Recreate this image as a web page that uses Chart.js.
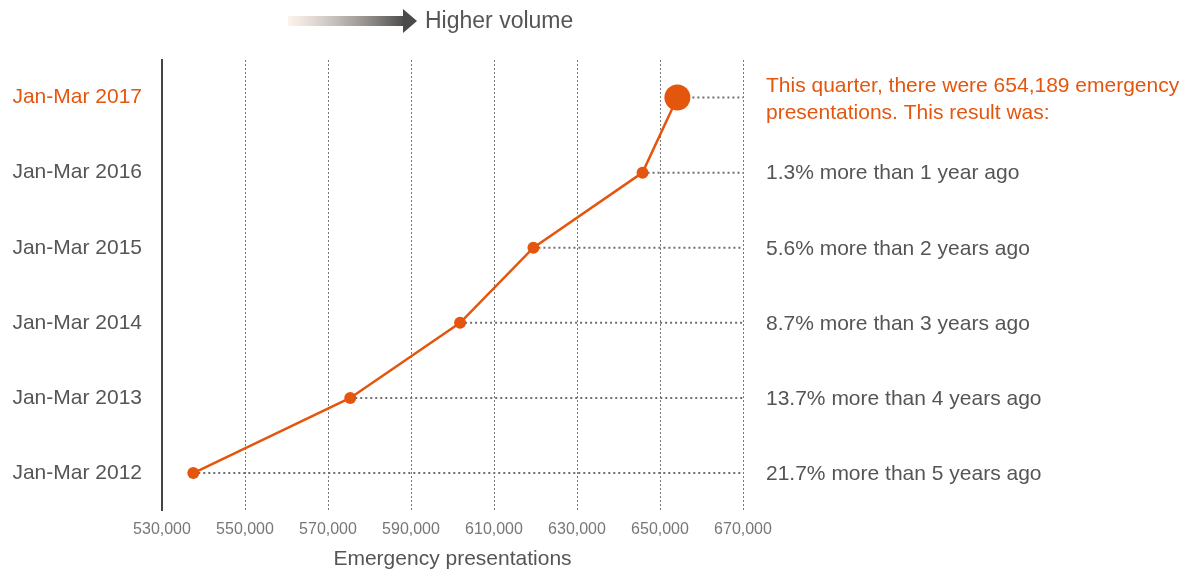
<!DOCTYPE html>
<html>
<head>
<meta charset="utf-8">
<script src="https://cdn.jsdelivr.net/npm/chart.js@4"></script>
<style>
  html, body { margin: 0; padding: 0; background: #ffffff; }
  #wrap { width: 1197px; height: 575px; position: relative; }
</style>
</head>
<body>
<div id="wrap"><canvas id="edChart"></canvas></div>
<script>
// Quarters, newest at the top
const quarters = ['Jan-Mar 2017', 'Jan-Mar 2016', 'Jan-Mar 2015', 'Jan-Mar 2014', 'Jan-Mar 2013', 'Jan-Mar 2012'];
const presentations = [654189, 645790, 619500, 601830, 575360, 537540];
const headlineNote = ['This quarter, there were 654,189 emergency', 'presentations. This result was:'];
const changeNotes = ['', '1.3% more than 1 year ago', '5.6% more than 2 years ago', '8.7% more than 3 years ago',
                     '13.7% more than 4 years ago', '21.7% more than 5 years ago'];
const xMin = 530000, xMax = 670000, xStep = 20000;

const ORANGE = '#E4560E';
const GREY = '#555555';
const FONT = "'Liberation Sans', Arial, sans-serif";

// dotted guide from each point across to the right edge
const guideSets = quarters.map((q, i) => ({
    data: [{ x: presentations[i], y: q }, { x: xMax, y: q }],
    borderColor: '#6f6f6f',
    borderWidth: 2,
    borderDash: [2, 3],
    pointRadius: 0,
    order: 2
}));

const sidePlugin = {
    id: 'sideNotes',
    afterDraw(chart) {
        const c = chart.ctx;
        const y = chart.scales.y;
        c.save();
        c.textAlign = 'left';
        c.textBaseline = 'middle';
        c.font = '21px ' + FONT;
        // headline for the latest quarter
        const y0 = y.getPixelForValue(0);
        c.fillStyle = ORANGE;
        c.fillText(headlineNote[0], 766, y0 - 11);
        c.fillText(headlineNote[1], 766, y0 + 16);
        c.fillStyle = GREY;
        changeNotes.forEach((t, i) => {
            if (t) c.fillText(t, 766, y.getPixelForValue(i) + 1);
        });

        // "Higher volume" arrow above the plot
        const g = c.createLinearGradient(288, 0, 405, 0);
        g.addColorStop(0, 'rgba(250,235,225,0.6)');
        g.addColorStop(1, '#4a4a4a');
        c.fillStyle = g;
        c.fillRect(288, 16, 118, 10);
        c.fillStyle = '#4a4a4a';
        c.beginPath();
        c.moveTo(403, 9);
        c.lineTo(417, 21);
        c.lineTo(403, 33);
        c.closePath();
        c.fill();
        c.fillStyle = GREY;
        c.font = '23px ' + FONT;
        c.fillText('Higher volume', 425, 22);
        c.restore();
    }
};

new Chart(document.getElementById('edChart'), {
    type: 'line',
    data: {
        labels: quarters,
        datasets: [
            {
                data: presentations,
                borderColor: ORANGE,
                backgroundColor: ORANGE,
                borderWidth: 2.5,
                pointBackgroundColor: ORANGE,
                pointBorderWidth: 0,
                pointRadius: [13, 6, 6, 6, 6, 6],
                order: 0
            },
            ...guideSets
        ]
    },
    plugins: [sidePlugin],
    options: {
        indexAxis: 'y',
        responsive: true,
        maintainAspectRatio: false,
        animation: false,
        layout: { padding: { top: 60, right: 454, bottom: 3, left: 0 } },
        plugins: {
            legend: { display: false },
            tooltip: { enabled: false }
        },
        scales: {
            x: {
                type: 'linear',
                min: xMin,
                max: xMax,
                grid: {
                    drawTicks: false,
                    color: ctx => ctx.index === 0 ? 'rgba(0,0,0,0)' : '#777777',
                    lineWidth: 1
                },
                border: { display: false, dash: [2, 2] },
                ticks: {
                    stepSize: xStep,
                    padding: 9,
                    color: '#777777',
                    font: { family: FONT, size: 16 },
                    callback: v => v.toLocaleString('en-US')
                },
                title: {
                    display: true,
                    text: 'Emergency presentations',
                    color: GREY,
                    padding: { top: -1, bottom: 0 },
                    font: { family: FONT, size: 21 }
                }
            },
            y: {
                type: 'category',
                offset: true,
                afterFit: s => { s.width = 162; },
                grid: { display: false, drawTicks: false },
                border: { display: true, color: '#444444', width: 2 },
                ticks: {
                    padding: 20,
                    color: ctx => ctx.index === 0 ? ORANGE : GREY,
                    font: { family: FONT, size: 21 }
                }
            }
        }
    }
});
</script>
</body>
</html>
